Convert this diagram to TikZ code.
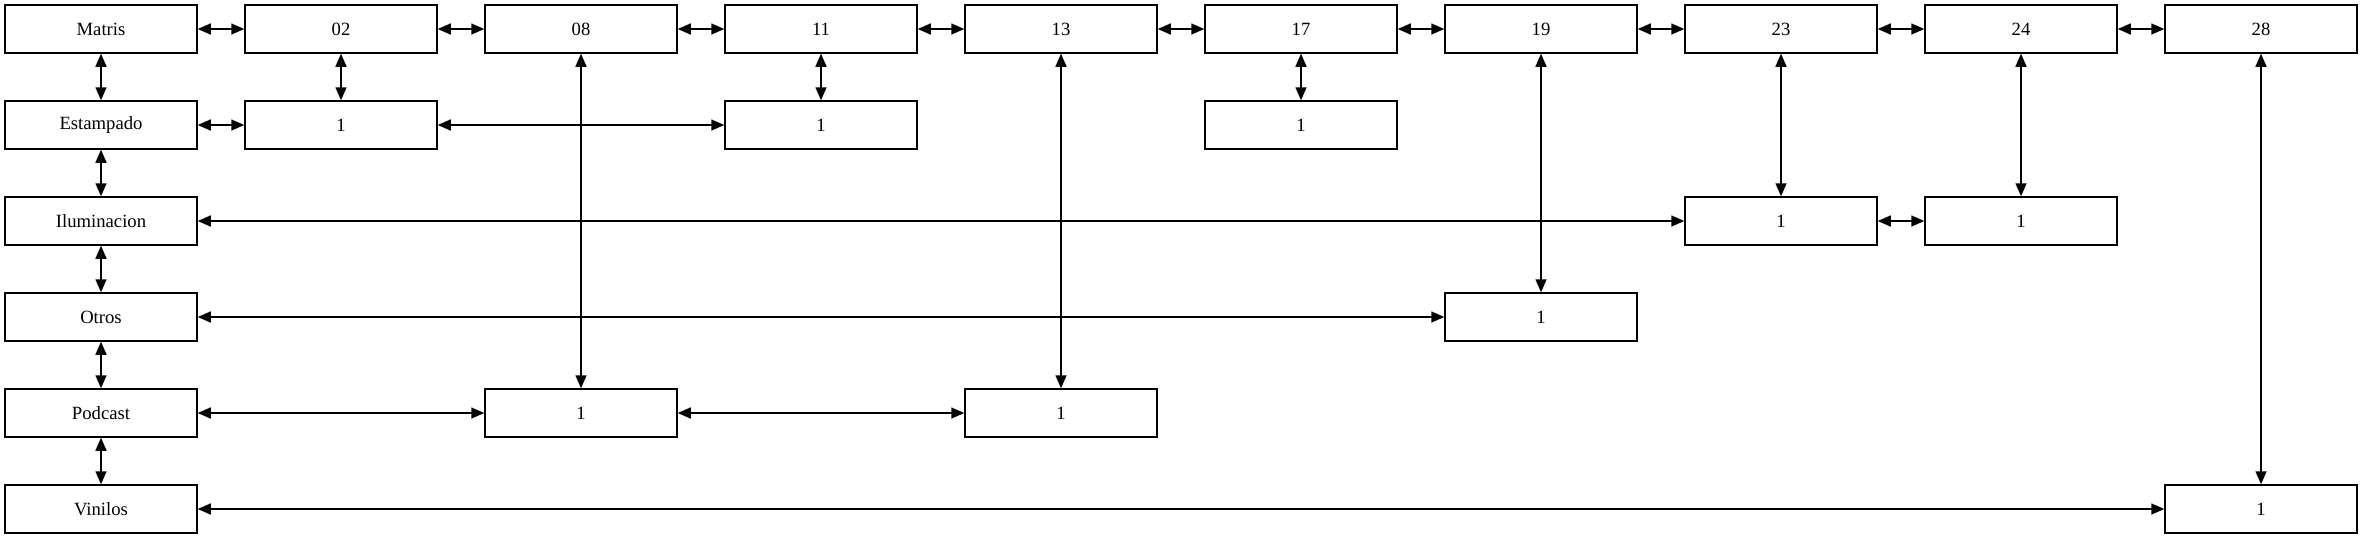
\documentclass[tikz,border=0pt]{standalone}
\usepackage{fontspec}
\setmainfont{Liberation Serif}
\usetikzlibrary{arrows.meta}
\begin{document}
\begin{tikzpicture}[x=1pt,y=1pt,
  box/.style={draw,line width=1.5pt,minimum width=192pt,minimum height=48pt,inner sep=0pt,
    font=\fontsize{18.67}{20}\selectfont},
  link/.style={line width=1.5pt,{Triangle[length=13pt,width=11pt]}-{Triangle[length=13pt,width=11pt]}}]
\useasboundingbox (0,0) rectangle (2363,-539);
\def\cx#1{\the\numexpr 101+240*#1\relax}
\def\cy#1{-\the\numexpr 29+96*#1\relax}
% row 0
\node[box] (m)   at (\cx0,\cy0) {Matris};
\node[box] (c02) at (\cx1,\cy0) {02};
\node[box] (c08) at (\cx2,\cy0) {08};
\node[box] (c11) at (\cx3,\cy0) {11};
\node[box] (c13) at (\cx4,\cy0) {13};
\node[box] (c17) at (\cx5,\cy0) {17};
\node[box] (c19) at (\cx6,\cy0) {19};
\node[box] (c23) at (\cx7,\cy0) {23};
\node[box] (c24) at (\cx8,\cy0) {24};
\node[box] (c28) at (\cx9,\cy0) {28};
% column 0
\node[box] (est) at (\cx0,\cy1) {Estampado};
\node[box] (ilu) at (\cx0,\cy2) {Iluminacion};
\node[box] (otr) at (\cx0,\cy3) {Otros};
\node[box] (pod) at (\cx0,\cy4) {Podcast};
\node[box] (vin) at (\cx0,\cy5) {Vinilos};
% cells
\node[box] (e02) at (\cx1,\cy1) {1};
\node[box] (e11) at (\cx3,\cy1) {1};
\node[box] (e17) at (\cx5,\cy1) {1};
\node[box] (i23) at (\cx7,\cy2) {1};
\node[box] (i24) at (\cx8,\cy2) {1};
\node[box] (o19) at (\cx6,\cy3) {1};
\node[box] (p08) at (\cx2,\cy4) {1};
\node[box] (p13) at (\cx4,\cy4) {1};
\node[box] (v28) at (\cx9,\cy5) {1};
% row 0 links
\draw[link] (m) -- (c02);
\draw[link] (c02) -- (c08);
\draw[link] (c08) -- (c11);
\draw[link] (c11) -- (c13);
\draw[link] (c13) -- (c17);
\draw[link] (c17) -- (c19);
\draw[link] (c19) -- (c23);
\draw[link] (c23) -- (c24);
\draw[link] (c24) -- (c28);
% column 0 links
\draw[link] (m) -- (est);
\draw[link] (est) -- (ilu);
\draw[link] (ilu) -- (otr);
\draw[link] (otr) -- (pod);
\draw[link] (pod) -- (vin);
% vertical links
\draw[link] (c02) -- (e02);
\draw[link] (c11) -- (e11);
\draw[link] (c17) -- (e17);
\draw[link] (c08) -- (p08);
\draw[link] (c13) -- (p13);
\draw[link] (c19) -- (o19);
\draw[link] (c23) -- (i23);
\draw[link] (c24) -- (i24);
\draw[link] (c28) -- (v28);
% horizontal links
\draw[link] (est) -- (e02);
\draw[link] (e02) -- (e11);
\draw[link] (ilu) -- (i23);
\draw[link] (i23) -- (i24);
\draw[link] (otr) -- (o19);
\draw[link] (pod) -- (p08);
\draw[link] (p08) -- (p13);
\draw[link] (vin) -- (v28);
\end{tikzpicture}
\end{document}
